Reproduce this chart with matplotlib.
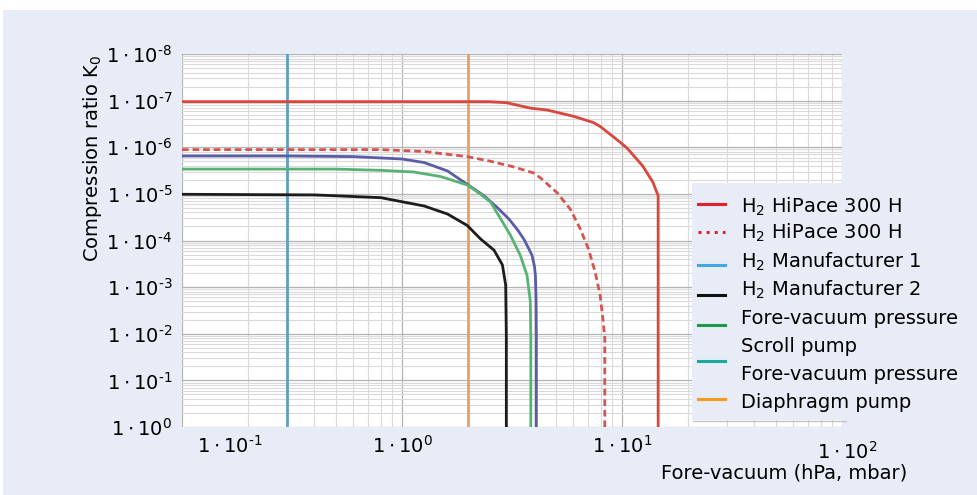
import matplotlib
matplotlib.use('Agg')
import matplotlib.pyplot as plt
from matplotlib.patches import Rectangle
from matplotlib.lines import Line2D
from matplotlib.transforms import ScaledTranslation

plt.rcParams['font.family'] = ['DejaVu Sans']
plt.rcParams['mathtext.default'] = 'regular'

# Fore-vacuum pressure (hPa) and compression ratio K0
hipace_x = [0.1, 2.5, 3.0, 3.83, 4.56, 6.03, 7.4, 7.95, 9.1, 10.5, 12.4, 13.8, 14.6, 14.6]
hipace_k = [9.5e6, 9.5e6, 9.0e6, 6.9e6, 6.3e6, 4.6e6, 3.4e6, 2.8e6, 1.7e6, 9.8e5, 4.0e5,
            1.8e5, 9.1e4, 1]

hipace2_x = [0.1, 0.8, 1.26, 1.98, 2.53, 3.21, 3.97, 4.26, 5.06, 5.82, 6.45, 7.04, 7.55,
             7.95, 8.18, 8.35, 8.35]
hipace2_k = [8.9e5, 8.9e5, 8.1e5, 6.3e5, 5.0e5, 3.8e5, 2.8e5, 2.2e5, 1.07e5, 4.7e4, 1.8e4,
             6.6e3, 2.1e3, 680, 215, 81, 1]

manu1_x = [0.1, 0.3, 0.6, 1.0, 1.26, 1.61, 1.98, 2.36, 2.71, 3.06, 3.35, 3.58, 3.78, 3.90,
           4.0, 4.04, 4.07, 4.08, 4.08]
manu1_k = [6.5e5, 6.5e5, 6.3e5, 5.6e5, 4.7e5, 3.1e5, 1.6e5, 9.1e4, 5.1e4, 2.9e4, 1.7e4,
           1.07e4, 6.5e3, 4.8e3, 2.8e3, 1.8e3, 500, 81, 1]

green_x = [0.1, 0.5, 0.8, 1.13, 1.5, 1.98, 2.28, 2.53, 2.81, 3.11, 3.45, 3.70, 3.83, 3.85,
           3.85]
green_k = [3.4e5, 3.4e5, 3.2e5, 2.95e5, 2.35e5, 1.55e5, 9.8e4, 6.6e4, 2.9e4, 1.3e4, 4.8e3,
           1.8e3, 500, 81, 1]

manu2_x = [0.1, 0.4, 0.8, 1.26, 1.61, 1.98, 2.28, 2.62, 2.86, 2.96, 2.98, 2.98]
manu2_k = [9.8e4, 9.5e4, 8.3e4, 5.5e4, 3.7e4, 2.1e4, 1.07e4, 6.2e3, 3.0e3, 1.1e3, 81, 1]

scroll_p = 0.3       # fore-vacuum pressure, scroll pump
diaphragm_p = 2.0    # fore-vacuum pressure, diaphragm pump

y_exp = list(range(0, 9))
x_ticks = [0.1, 1, 10, 100]
x_labels = ['$1\\cdot10^{\\text{-}1}$', '$1\\cdot10^{0}$', '$1\\cdot10^{1}$', '$1\\cdot10^{2}$']

legend_labels = ['H$_2$ HiPace 300 H', 'H$_2$ HiPace 300 H', 'H$_2$ Manufacturer 1',
                 'H$_2$ Manufacturer 2', 'Fore-vacuum pressure', 'Scroll pump',
                 'Fore-vacuum pressure', 'Diaphragm pump']

BG = '#e8ecf6'
W, H = 977, 495

fig = plt.figure(figsize=(9.77, 4.95), dpi=100, facecolor='white')
fig.patches.append(Rectangle((3 / W, 0), 1, (H - 10) / H, transform=fig.transFigure,
                             facecolor=BG, edgecolor='none', zorder=-1))

ax = fig.add_axes([182 / W, (H - 427) / H, 660 / W, 373 / H])
ax.set_facecolor('white')
ax.set_xscale('log')
ax.set_yscale('log')
ax.set_xlim(0.1, 100)
ax.set_ylim(1, 1e8)
for s in ax.spines.values():
    s.set_visible(False)

ax.grid(True, which='major', color='#b4b4b4', lw=0.9)
ax.grid(True, which='minor', color='#dadada', lw=0.8)
ax.tick_params(which='both', length=0)

ax.axvline(scroll_p, color='#5f9dc4', lw=2)
ax.axvline(diaphragm_p, color='#e9a064', lw=2)

ax.plot(hipace_x, hipace_k, color='#d9463b', lw=2)
ax.plot(hipace2_x, hipace2_k, color='#d65450', lw=2, dashes=(2.4, 1.4))
ax.plot(manu1_x, manu1_k, color='#5a5ca8', lw=2)
ax.plot(green_x, green_k, color='#57b374', lw=2)
ax.plot(manu2_x, manu2_k, color='#1c1c1c', lw=2)

ax.set_yticks([10.0 ** e for e in y_exp])
ax.set_yticklabels(['$1\\cdot10^{\\text{-}%d}$' % e if e > 0 else '$1\\cdot10^{0}$' for e in y_exp],
                   fontsize=14)
ax.tick_params(axis='y', pad=7)
ax.set_xticks(x_ticks)
ax.set_xticklabels(x_labels, fontsize=14)
ax.tick_params(axis='x', pad=6)
labs = ax.get_xticklabels()
labs[0].set_transform(labs[0].get_transform() + ScaledTranslation(0.48, 0, fig.dpi_scale_trans))
labs[-1].set_transform(labs[-1].get_transform() + ScaledTranslation(0.05, -0.06, fig.dpi_scale_trans))

fig.text(784 / W, 1 - 473 / H, 'Fore-vacuum (hPa, mbar)', fontsize=14,
         ha='center', va='center')
fig.text(92 / W, 1 - 158 / H, 'Compression ratio K$_0$', fontsize=14,
         rotation=90, ha='center', va='center')

# legend panel
fig.patches.append(Rectangle((692 / W, 1 - 420 / H), 1, 237 / H, transform=fig.transFigure,
                             facecolor=BG, edgecolor='none', zorder=2))
fig.lines.append(Line2D([693 / W, 846 / W], [1 - 420.5 / H] * 2, transform=fig.transFigure,
                        color='#c4c4c4', lw=1, zorder=3))
handles = [(203.5, '#e3202b', '-'), (231.5, '#e3202b', ':'), (264.5, '#3fa9e0', '-'),
           (294.5, '#111111', '-'), (324.5, '#1f9a48', '-'), (361, '#19a9a1', '-'),
           (398.5, '#f39a1f', '-')]
for yy, c, ls in handles:
    fig.lines.append(Line2D([698 / W, 725 / W], [1 - yy / H] * 2, transform=fig.transFigure,
                            color=c, lw=2.2, ls=ls, zorder=3))
text_y = [206.7, 233.3, 261.7, 290, 318.3, 346.7, 374, 402.3]
for yy, t in zip(text_y, legend_labels):
    fig.text(741 / W, 1 - yy / H, t, fontsize=14, ha='left', va='center', zorder=3)

fig.savefig('out.png', dpi=100, facecolor='white')
